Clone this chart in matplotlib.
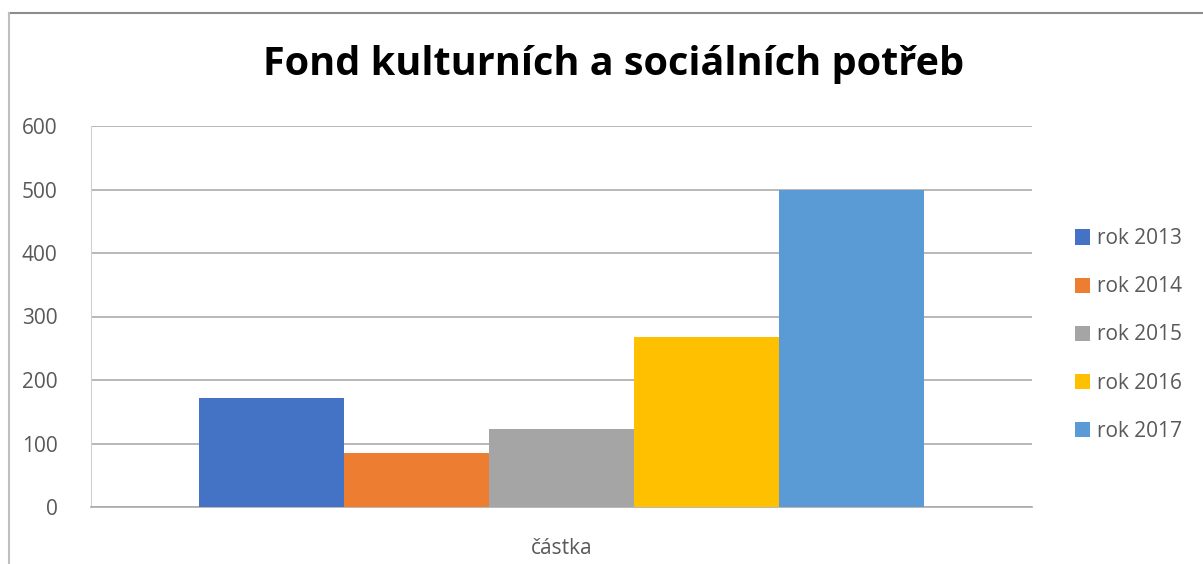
import matplotlib
matplotlib.use('Agg')
import matplotlib.pyplot as plt
import numpy as np

plt.rcParams['font.family'] = ['Open Sans', 'DejaVu Sans']

# data
category = 'částka'
series = ['rok 2013', 'rok 2014', 'rok 2015', 'rok 2016', 'rok 2017']
values = [172, 85, 123, 267, 500]
colors = ['#4472C4', '#ED7D31', '#A5A5A5', '#FFC000', '#5B9BD5']
yticks = [0, 100, 200, 300, 400, 500, 600]

TEXT_GREY = '#595959'
GRID = '#ABABAB'

fig = plt.figure(figsize=(12.03, 5.64), dpi=100)
fig.patch.set_facecolor('white')

# chart border (Excel-like frame, cropped at right/bottom)
fig.add_artist(plt.Line2D([9/1203, 1], [1 - 13/564, 1 - 13/564], transform=fig.transFigure,
                          color='#8C8C8C', lw=1.5))
fig.add_artist(plt.Line2D([9/1203, 9/1203], [0, 1 - 13/564], transform=fig.transFigure,
                          color='#BFBFBF', lw=1.5))

ax = fig.add_axes([91/1203, 57/564, 941/1203, 381/564])
w = 0.154
for i, (lab, v, c) in enumerate(zip(series, values, colors)):
    ax.bar((i - 2) * w, v, w, color=c, label=lab, zorder=3)

ax.set_xlim(-0.5, 0.5)
ax.set_ylim(0, 600)
ax.set_yticks(yticks)
ax.set_xticks([0])
ax.set_xticklabels([category])
ax.tick_params(axis='both', length=0, labelsize=15, colors=TEXT_GREY)
ax.tick_params(axis='x', pad=22)
ax.tick_params(axis='y', pad=24)
ax.grid(True, axis='y', color=GRID, lw=1.2, zorder=0)
for s in ['top', 'right']:
    ax.spines[s].set_visible(False)
ax.spines['left'].set_color('#D0D0D0')
ax.spines['bottom'].set_color(GRID)
ax.spines['bottom'].set_linewidth(1.2)

fig.text(614/1203, 1 - 65/564, 'Fond kulturních a sociálních potřeb', ha='center', va='center',
         fontsize=28.5, fontweight='bold', color='black')

fig.legend(loc='center left', bbox_to_anchor=(1056/1203, 1 - 335/564), frameon=False,
           fontsize=15, labelcolor=TEXT_GREY, handlelength=0.75, handleheight=0.75,
           handletextpad=0.3, labelspacing=1.3)

fig.savefig('out.png', dpi=100)
